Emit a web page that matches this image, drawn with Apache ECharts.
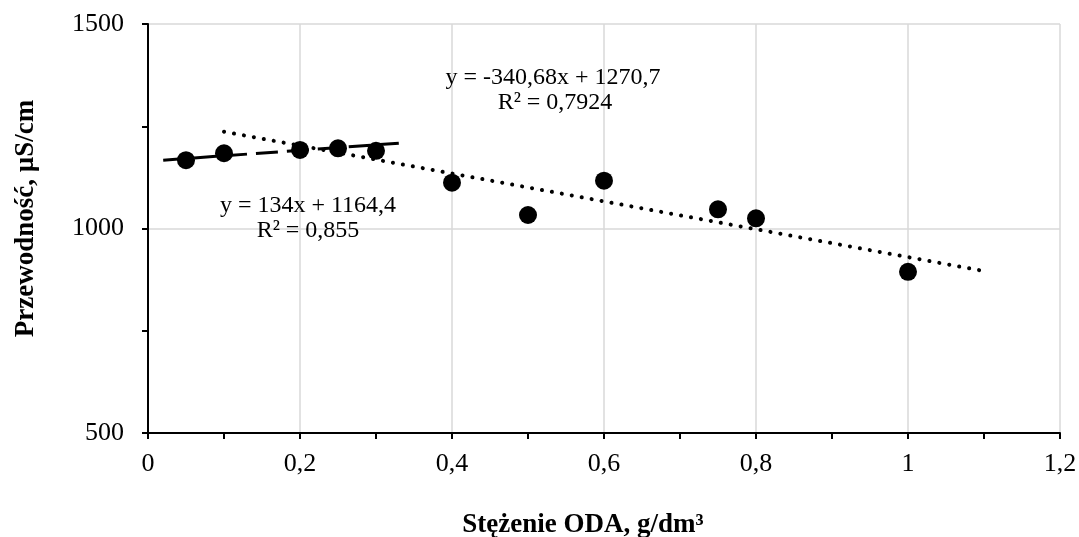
<!DOCTYPE html>
<html>
<head>
<meta charset="utf-8">
<script src="https://cdn.jsdelivr.net/npm/echarts@6/dist/echarts.min.js"></script>
<style>
html,body{margin:0;padding:0;background:#fff;}
#c{width:1079px;height:537px;}
</style>
</head>
<body>
<div id="c"></div>
<script>
// Data
var xValues = [0.05, 0.1, 0.2, 0.25, 0.3, 0.4, 0.5, 0.6, 0.75, 0.8, 1.0];
var yValues = [1167, 1184, 1192, 1196, 1190, 1112, 1033, 1117, 1047, 1025, 894];

// Trendline 1 (dashed): y = 134x + 1164.4, drawn from x=0.02 to 0.33
var trend1Coef = [134, 1164.4];
var trend1Range = [0.02, 0.33];
var trend1Text = ['y = 134x + 1164,4', 'R² = 0,855'];

// Trendline 2 (dotted): y = -340.68x + 1270.7, drawn from x=0.1 to 1.1
var trend2Coef = [-340.68, 1270.7];
var trend2Range = [0.1, 1.1];
var trend2Text = ['y = -340,68x + 1270,7', 'R² = 0,7924'];

var xTitle = 'Stężenie ODA, g/dm³';
var yTitle = 'Przewodność, µS/cm';

function trendPoints(coef, range) {
  return range.map(function (x) { return [x, coef[0] * x + coef[1]]; });
}

var points = xValues.map(function (x, i) { return [x, yValues[i]]; });
var FONT = "'Liberation Serif', 'Times New Roman', serif";

var chart = echarts.init(document.getElementById('c'), null, {renderer: 'canvas'});
chart.setOption({
  animation: false,
  backgroundColor: '#fff',
  grid: {left: 148, right: 19, top: 24, bottom: 104, containLabel: false, outerBoundsMode: 'none'},
  xAxis: {
    type: 'value', min: 0, max: 1.2, interval: 0.2,
    name: xTitle, nameLocation: 'middle', nameGap: 79,
    nameTextStyle: {fontFamily: FONT, fontSize: 27, fontWeight: 'bold', color: '#000', padding: [0, 42, 0, 0]},
    axisLine: {show: true, onZero: false, lineStyle: {color: '#000', width: 2}},
    axisTick: {show: true, length: 6, lineStyle: {color: '#000', width: 2}},
    minorTick: {show: true, splitNumber: 2, length: 6, lineStyle: {color: '#000', width: 2}},
    axisLabel: {
      fontFamily: FONT, fontSize: 26, color: '#000', margin: 18,
      formatter: function (v) { return String(Math.round(v * 10) / 10).replace('.', ','); }
    },
    splitLine: {show: true, lineStyle: {color: '#d9d9d9', width: 1.5}}
  },
  yAxis: {
    type: 'value', min: 500, max: 1500, interval: 500,
    name: yTitle, nameLocation: 'middle', nameGap: 108, nameRotate: 90,
    nameTextStyle: {fontFamily: FONT, fontSize: 27, fontWeight: 'bold', color: '#000', padding: [0, 0, 0, 20]},
    axisLine: {show: true, onZero: false, lineStyle: {color: '#000', width: 2}},
    axisTick: {show: true, length: 6, lineStyle: {color: '#000', width: 2}},
    minorTick: {show: true, splitNumber: 2, length: 6, lineStyle: {color: '#000', width: 2}},
    axisLabel: {fontFamily: FONT, fontSize: 26, color: '#000', margin: 24,
      formatter: function (v) { return String(v); }},
    splitLine: {show: true, lineStyle: {color: '#d9d9d9', width: 1.5}}
  },
  series: [
    {
      type: 'scatter', data: points, symbol: 'circle', symbolSize: 18,
      itemStyle: {color: '#000', opacity: 1}, z: 2
    },
    {
      type: 'line', data: trendPoints(trend1Coef, trend1Range), symbol: 'none',
      lineStyle: {color: '#000', width: 3, type: [22, 9]}, z: 3
    },
    {
      type: 'line', data: trendPoints(trend2Coef, trend2Range), symbol: 'none',
      lineStyle: {color: '#000', width: 4, type: [0.1, 10], cap: 'round'}, z: 3
    }
  ],
  graphic: [
    {type: 'text', x: 553, y: 78, z: 10,
     style: {text: trend2Text[0], font: '24px ' + FONT, fill: '#000', align: 'center', verticalAlign: 'middle'}},
    {type: 'text', x: 555, y: 103, z: 10,
     style: {text: trend2Text[1], font: '24px ' + FONT, fill: '#000', align: 'center', verticalAlign: 'middle'}},
    {type: 'text', x: 308, y: 206, z: 10,
     style: {text: trend1Text[0], font: '24px ' + FONT, fill: '#000', align: 'center', verticalAlign: 'middle'}},
    {type: 'text', x: 308, y: 231, z: 10,
     style: {text: trend1Text[1], font: '24px ' + FONT, fill: '#000', align: 'center', verticalAlign: 'middle'}}
  ]
});
</script>
</body>
</html>
